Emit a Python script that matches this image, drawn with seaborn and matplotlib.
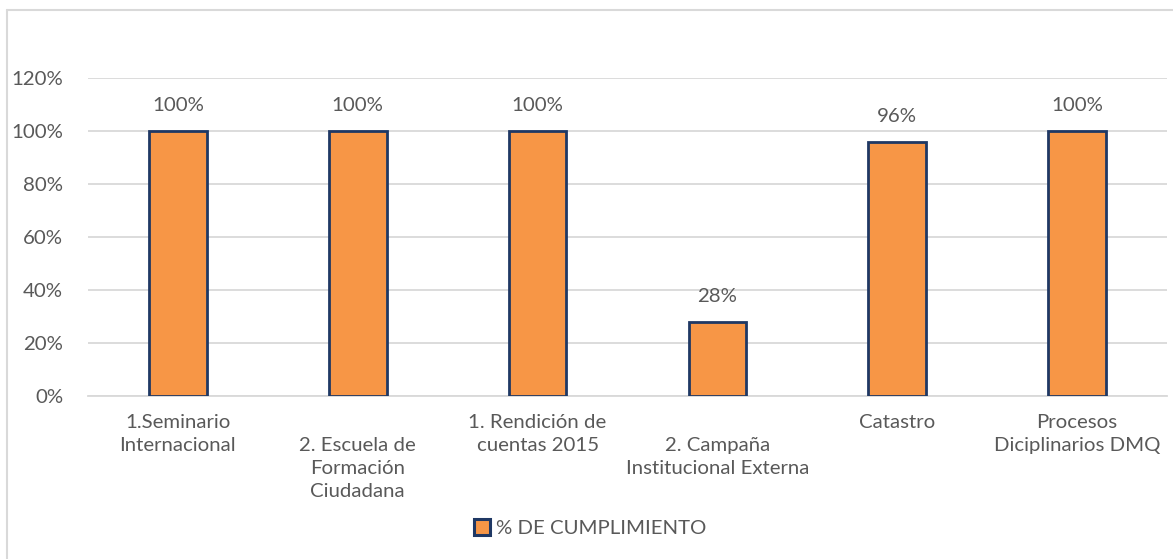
import matplotlib
matplotlib.use("Agg")
import matplotlib.pyplot as plt
import seaborn as sns
import pandas as pd
from matplotlib.patches import Patch
from matplotlib.lines import Line2D
from matplotlib.ticker import PercentFormatter

categories = [
    "1.Seminario\nInternacional",
    "2. Escuela de\nFormación\nCiudadana",
    "1. Rendición de\ncuentas 2015",
    "2. Campaña\nInstitucional Externa",
    "Catastro",
    "Procesos\nDiciplinarios DMQ",
]
values = [1.00, 1.00, 1.00, 0.28, 0.96, 1.00]
series_name = "% DE CUMPLIMIENTO"
yticks = [0, 0.2, 0.4, 0.6, 0.8, 1.0, 1.2]

sns.set_theme(style="white")
plt.rcParams['font.family'] = ['Lato', 'DejaVu Sans']

TEXT = "#595959"
FILL = "#F79646"
EDGE = "#1F3864"
GRID = "#D9D9D9"
FS = 14.7

df = pd.DataFrame({"cat": categories, "val": values})

fig = plt.figure(figsize=(11.73, 5.59), dpi=100)
ax = fig.add_axes([88/1173, 1-396/559, (1167-88)/1173, (396-78)/559])

sns.barplot(data=df, x="cat", y="val", color=FILL, edgecolor=EDGE,
            linewidth=2.0, width=0.32, saturation=1, ax=ax, zorder=3)

ax.set_ylim(0, 1.2)
ax.set_yticks(yticks)
ax.yaxis.set_major_formatter(PercentFormatter(1.0, decimals=0))
ax.yaxis.grid(True, color=GRID, linewidth=1.3, zorder=0)
ax.set_axisbelow(True)
for s in ["top", "right", "left"]:
    ax.spines[s].set_visible(False)
ax.spines["bottom"].set_color(GRID)
ax.spines["bottom"].set_linewidth(1.3)
ax.set_xlabel("")
ax.set_ylabel("")
ax.tick_params(axis="y", length=0, pad=18, labelsize=FS, labelcolor=TEXT)
ax.tick_params(axis="x", length=0, pad=13, labelsize=FS, labelcolor=TEXT)

# staggered category labels (every other label shifted down one line)
labels = [("\n" + c) if i in (1, 3) else c for i, c in enumerate(categories)]
ax.set_xticks(range(len(categories)))
ax.set_xticklabels(labels, va="top", ha="center", linespacing=1.42)

for cont in ax.containers:
    ax.bar_label(cont, labels=[f"{v*100:.0f}%" for v in values],
                 padding=12, fontsize=FS, color=TEXT)

handle = Patch(facecolor=FILL, edgecolor=EDGE, linewidth=2.2)
fig.legend([handle], [series_name], loc="center", bbox_to_anchor=(0.503, 1-528/559),
           frameon=False, fontsize=FS, labelcolor=TEXT, handlelength=0.8,
           handleheight=0.8, handletextpad=0.3)

# chart area border (partially visible)
fig.add_artist(Line2D([7/1173, 7/1173], [0, 1-10/559], transform=fig.transFigure,
                      color=GRID, linewidth=1.5))
fig.add_artist(Line2D([7/1173, 1], [1-10/559, 1-10/559], transform=fig.transFigure,
                      color=GRID, linewidth=1.5))

fig.savefig("out.png", dpi=100)
